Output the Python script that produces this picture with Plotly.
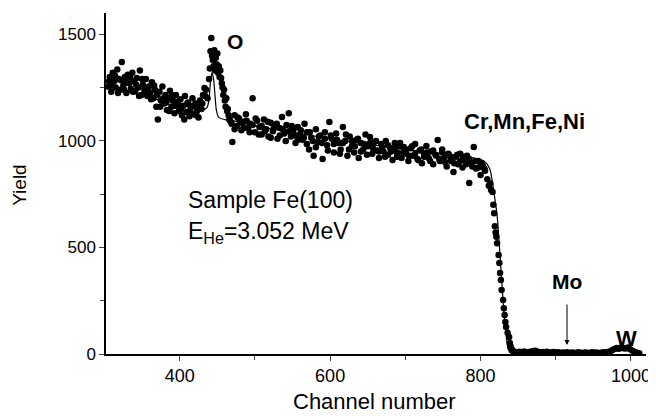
import plotly.graph_objects as go

ch_pre = [305, 307, 309, 311, 313, 315, 317, 319, 321, 323, 325, 327, 329, 331, 333, 335, 337, 339, 341, 343,
          345, 347, 349, 351, 353, 355, 357, 359, 361, 363, 365, 367, 369, 371, 373, 375, 377, 379, 381, 383,
          385, 387, 389, 391, 393, 395, 397, 399, 401, 403, 405, 407, 409, 411, 413, 415, 417, 419, 421, 423,
          425, 427, 429, 431, 433, 435, 437]
y_pre = [1255, 1300, 1230, 1320, 1280, 1250, 1335, 1290, 1240, 1370, 1260, 1300, 1225, 1310, 1270, 1245, 1320, 1280, 1235, 1295,
         1250, 1330, 1215, 1265, 1240, 1290, 1210, 1255, 1225, 1275, 1200, 1240, 1160, 1100, 1230, 1190, 1255, 1175, 1215, 1145,
         1200, 1235, 1160, 1190, 1130, 1215, 1170, 1140, 1195, 1120, 1165, 1210, 1135, 1180, 1115, 1160, 1200, 1125, 1175, 1140,
         1110, 1190, 1150, 1215, 1248, 1240, 1200]

ch_pre2 = [306, 310, 314, 318, 322, 326, 330, 334, 338, 342, 346, 350, 354, 358, 362, 366, 370, 374, 378, 382,
           386, 390, 394, 398, 402, 406, 410, 414, 418, 422, 426, 430, 434]
y_pre2 = [1280, 1260, 1305, 1225, 1285, 1240, 1275, 1300, 1230, 1265, 1210, 1290, 1225, 1245, 1195, 1260, 1215, 1160, 1200, 1180,
          1140, 1215, 1165, 1185, 1150, 1100, 1175, 1145, 1165, 1120, 1160, 1175, 1210]

ch_peak = [439, 440, 441, 442, 443, 444, 445, 446, 447, 448, 449, 450, 451, 452, 453, 454, 455, 456, 457, 458,
           459, 460, 461, 462, 463, 464, 465, 466]
y_peak = [1290, 1340, 1420, 1483, 1400, 1380, 1350, 1425, 1330, 1390, 1360, 1410, 1320, 1350, 1300, 1330, 1295, 1270, 1250, 1215,
          1240, 1190, 1160, 1200, 1140, 1150, 1120, 1100]

ch_plateau = [467, 470, 473, 476, 479, 482, 485, 488, 491, 494, 497, 500, 503, 506, 509, 512, 515, 518, 521, 524,
              527, 530, 533, 536, 539, 542, 545, 548, 551, 554, 557, 560, 563, 566, 569, 572, 575, 578, 581, 584,
              587, 590, 593, 596, 599, 602, 605, 608, 611, 614, 617, 620, 623, 626, 629, 632, 635, 638, 641, 644,
              647, 650, 653, 656, 659, 662, 665, 668, 671, 674, 677, 680, 683, 686, 689, 692, 695, 698, 701, 704,
              707, 710, 713, 716, 719, 722, 725, 728, 731, 734, 737, 740, 743, 746, 749, 752, 755, 758, 761, 764,
              767, 770, 773, 776, 779, 782, 785, 788, 791, 794, 797, 800, 803, 806]
y_plateau = [1095, 995, 1120, 1070, 1105, 1050, 1090, 1125, 1060, 1080, 1200, 1040, 1095, 1065, 1030, 1100, 1055, 1020, 1085, 1045,
             1070, 1010, 1060, 1112, 1035, 1075, 1130, 1020, 1050, 990, 1065, 1030, 1005, 1080, 1040, 960, 1015, 930, 1055, 995,
             1025, 915, 1040, 980, 1089, 1010, 945, 1035, 990, 960, 1065, 1000, 930, 1020, 975, 945, 1005, 920, 990, 960,
             1030, 975, 1018, 940, 995, 955, 920, 985, 950, 1000, 935, 965, 910, 990, 945, 975, 920, 971, 940, 905,
             965, 930, 985, 915, 955, 895, 940, 976, 920, 950, 890, 935, 1004, 905, 945, 920, 880, 935, 905, 854,
             925, 890, 940, 875, 910, 930, 802, 895, 971, 870, 905, 840, 885, 860]

ch_plateau2 = [469, 473, 477, 481, 485, 489, 493, 497, 501, 505, 509, 513, 517, 521, 525, 529, 533, 537, 541, 545,
               549, 553, 557, 561, 565, 569, 573, 577, 581, 585, 589, 593, 597, 601, 605, 609, 613, 617, 621, 625,
               629, 633, 637, 641, 645, 649, 653, 657, 661, 665, 669, 673, 677, 681, 685, 689, 693, 697, 701, 705,
               709, 713, 717, 721, 725, 729, 733, 737, 741, 745, 749, 753, 757, 761, 765, 769, 773, 777, 781, 785,
               789, 793, 797, 801, 805]
y_plateau2 = [1080, 1055, 1110, 1085, 1060, 1095, 1040, 1075, 1105, 1030, 1070, 1045, 1090, 1015, 1060, 1080, 1025, 1055, 1000, 1045,
              1070, 1025, 1005, 1050, 1015, 985, 1040, 1000, 970, 1020, 990, 1010, 955, 1025, 985, 1005, 940, 990, 1030, 960,
              1000, 975, 1010, 950, 985, 935, 990, 965, 1000, 950, 970, 925, 980, 950, 965, 925, 990, 945, 960, 930,
              975, 940, 910, 960, 925, 945, 905, 955, 930, 915, 960, 900, 940, 920, 895, 935, 905, 925, 890, 915,
              880, 905, 875, 895, 870]

ch_edge = [809, 811, 813, 814, 816, 817, 818, 819, 820, 821, 822, 824, 825, 826, 827, 828, 830, 831, 832, 833,
           834, 836, 838, 839, 840, 842, 844, 847, 850]
y_edge = [820, 790, 800, 770, 760, 700, 660, 600, 570, 550, 520, 465, 427, 380, 347, 300, 253, 215, 183, 150,
          127, 100, 80, 52, 35, 20, 12, 9, 8]

ch_tail = [852, 855, 858, 861, 864, 867, 870, 873, 876, 879, 882, 885, 888, 891, 894, 897, 900, 903, 906, 909,
           912, 915, 918, 921, 924, 927, 930, 933, 936, 939, 942, 945, 948, 951, 954, 957, 960, 963, 966, 969,
           972, 975, 978, 981, 984, 987, 990, 993, 996, 999, 1002, 1005, 1008, 1011]
y_tail = [10, 8, 12, 7, 9, 11, 14, 15, 10, 8, 9, 7, 10, 8, 6, 9, 7, 8, 5, 7,
          6, 8, 5, 7, 6, 5, 8, 6, 5, 7, 6, 5, 8, 6, 7, 5, 6, 8, 7, 9,
          12, 18, 24, 28, 25, 30, 27, 26, 31, 22, 15, 9, 6, 4]

ch_fit = [304, 320, 340, 360, 380, 400, 420, 430, 436, 439, 441, 443, 445, 447, 449, 452, 460, 470, 500, 550,
          600, 650, 700, 750, 790, 805, 812, 816, 819, 822, 825, 828, 831, 834, 837, 840, 860, 900, 950, 970,
          978, 985, 995, 1002, 1008, 1015]
y_fit = [1260, 1240, 1222, 1203, 1186, 1170, 1152, 1145, 1155, 1200, 1280, 1320, 1290, 1210, 1140, 1110, 1100, 1095, 1070, 1040,
         1010, 985, 960, 940, 920, 905, 870, 800, 730, 650, 510, 350, 200, 90, 20, 5, 4, 3, 3, 5,
         12, 18, 18, 10, 3, 0]

x_ticks = [400, 600, 800, 1000]
y_ticks = [0, 500, 1000, 1500]

ch_all = ch_pre + ch_pre2 + ch_peak + ch_plateau + ch_plateau2 + ch_edge + ch_tail
y_all = y_pre + y_pre2 + y_peak + y_plateau + y_plateau2 + y_edge + y_tail

FONT = "Liberation Sans, Arial, sans-serif"

fig = go.Figure()
fig.add_trace(go.Scatter(x=ch_fit, y=y_fit, mode="lines", line=dict(color="black", width=1.2, shape="spline")))
fig.add_trace(go.Scatter(x=ch_all, y=y_all, mode="markers", marker=dict(color="black", size=6.5)))

# the page body adds an 8px margin, so the figure is 8px smaller in each direction
fig.update_layout(
    width=648, height=408,
    margin=dict(l=98, r=6, t=5, b=62),
    plot_bgcolor="white", paper_bgcolor="white",
    showlegend=False,
    font=dict(family=FONT, color="black", size=16),
)
fig.update_xaxes(
    range=[302, 1020], tickvals=x_ticks, ticks="outside", ticklen=5, tickwidth=1.2,
    showline=True, linecolor="black", linewidth=1.5, showgrid=False, zeroline=False,
    tickfont=dict(size=18),
    minor=dict(tickvals=[500, 700, 900], ticks="outside", ticklen=4, tickwidth=1.2),
)
fig.update_yaxes(
    range=[0, 1600], tickvals=y_ticks, ticks="outside", ticklen=5, tickwidth=1.2,
    showline=True, linecolor="black", linewidth=1.5, showgrid=False, zeroline=False,
    tickfont=dict(size=17),
    minor=dict(tickvals=[250, 750, 1250], ticks="outside", ticklen=4, tickwidth=1.2),
)

ann = []
ann.append(dict(text="Channel number", xref="paper", yref="paper", x=0.498, y=0, yshift=-47,
                showarrow=False, font=dict(size=22), xanchor="center", yanchor="middle"))
ann.append(dict(text="Yield", xref="paper", yref="paper", x=0, xshift=-86, y=0.496, textangle=-90,
                showarrow=False, font=dict(size=19), xanchor="center", yanchor="middle"))
ann.append(dict(text="<b>O</b>", x=473, y=1464, showarrow=False, font=dict(size=21)))
ann.append(dict(text="<b>Cr,Mn,Fe,Ni</b>", x=858, y=1089, showarrow=False, font=dict(size=22)))
ann.append(dict(text="Sample Fe(100)", x=409, y=723, showarrow=False, xanchor="left", font=dict(size=23)))
ann.append(dict(text="E<sub>He</sub>=3.052 MeV", x=408, y=568, showarrow=False, xanchor="left", font=dict(size=23)))
ann.append(dict(text="<b>Mo</b>", x=915, y=338, showarrow=False, font=dict(size=21)))
ann.append(dict(text="", x=915, y=42, ax=915, ay=239, axref="x", ayref="y", showarrow=True,
                arrowhead=2, arrowsize=1, arrowwidth=1, arrowcolor="black"))
ann.append(dict(text="<b>W</b>", x=994, y=75, showarrow=False, font=dict(size=22)))
fig.update_layout(annotations=ann)

fig.write_html("out.html")
